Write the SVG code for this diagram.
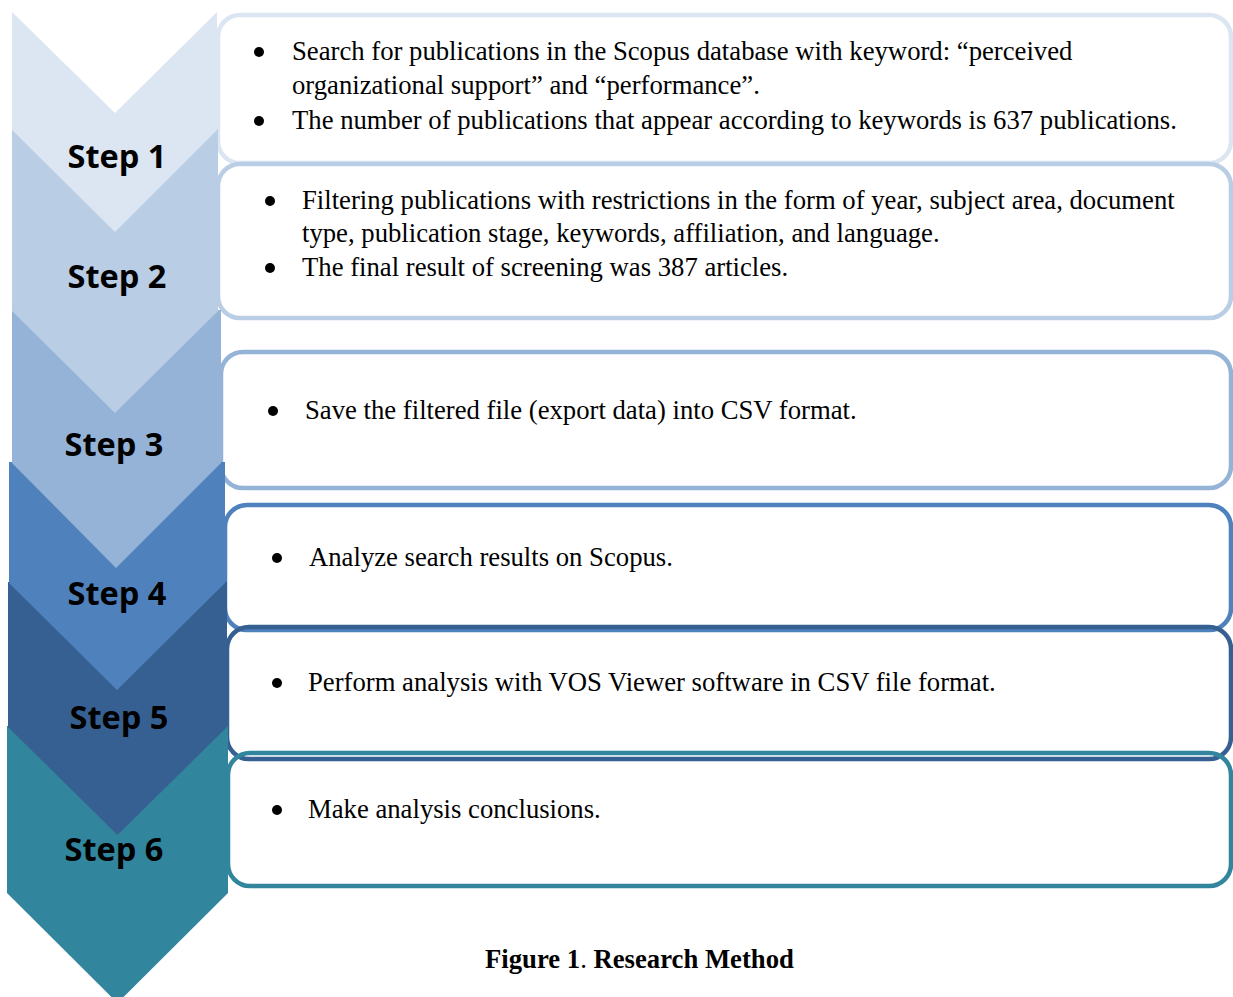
<svg xmlns="http://www.w3.org/2000/svg" width="1233" height="997" viewBox="0 0 1233 997">
<style>
.box{fill:none;stroke-width:4.5}
.t{font-family:"Liberation Serif","Times New Roman",serif;font-size:26.7px;fill:#000}
.s{font-family:"Open Sans","Liberation Sans",sans-serif;font-weight:bold;font-size:32.5px;fill:#000}
.cap{font-family:"Liberation Serif","Times New Roman",serif;font-size:26.7px;font-weight:bold;fill:#000}
</style>
<rect width="1233" height="997" fill="#fff"/>
<g id="connectors"></g>
<g id="boxes">
<g id="box1"><rect class="box" x="218" y="15" width="1013" height="148" rx="22" stroke="#DCE6F2"/></g>
<g id="box2"><rect class="box" x="218" y="164" width="1013" height="154" rx="22" stroke="#B9CDE5"/></g>
<g id="box3"><rect class="box" x="221" y="352" width="1010" height="136" rx="22" stroke="#95B3D7"/></g>
<g id="box4"><rect class="box" x="225" y="505" width="1006" height="125" rx="22" stroke="#4F81BD"/></g>
<g id="box5"><rect class="box" x="227" y="627" width="1004" height="132" rx="22" stroke="#376092"/></g>
<g id="box6"><rect class="box" x="228" y="753" width="1003" height="133" rx="22" stroke="#31859C"/></g>
</g>
<g id="chevrons">
<g id="chev6"><polygon points="7,726 228,726 228,893 117.5,1003 7,893" fill="#31859C"/></g>
<g id="chev5"><polygon points="8,582 227,582 227,727 117.5,835 8,727" fill="#376092"/></g>
<g id="chev4"><polygon points="9,462 225,462 225,583 117,690 9,583" fill="#4F81BD"/></g>
<g id="chev3"><polygon points="12,310 221,310 221,463 116,568 12,463" fill="#95B3D7"/></g>
<g id="chev2"><polygon points="12,129 218,129 218,311 115,413 12,311" fill="#B9CDE5"/></g>
<g id="chev1"><polygon points="12,12 115,113 217,12 217,130 115,232 12,130" fill="#DCE6F2"/></g>
</g>
<g id="labels">
<text class="s" x="117" y="168" text-anchor="middle">Step 1</text>
<text class="s" x="117" y="288" text-anchor="middle">Step 2</text>
<text class="s" x="114" y="456" text-anchor="middle">Step 3</text>
<text class="s" x="117" y="605" text-anchor="middle">Step 4</text>
<text class="s" x="119" y="729" text-anchor="middle">Step 5</text>
<text class="s" x="114" y="861" text-anchor="middle">Step 6</text>
</g>
<g id="texts">
<circle cx="259" cy="52" r="5"/>
<text class="t" x="292" y="60">Search for publications in the Scopus database with keyword: “perceived</text>
<text class="t" x="292" y="94">organizational support” and “performance”.</text>
<circle cx="259" cy="121" r="5"/>
<text class="t" x="292" y="129">The number of publications that appear according to keywords is 637 publications.</text>
<circle cx="270" cy="201" r="5"/>
<text class="t" x="302" y="209">Filtering publications with restrictions in the form of year, subject area, document</text>
<text class="t" x="302" y="242">type, publication stage, keywords, affiliation, and language.</text>
<circle cx="270" cy="268" r="5"/>
<text class="t" x="302" y="276">The final result of screening was 387 articles.</text>
<circle cx="273" cy="411" r="5"/>
<text class="t" x="305" y="419">Save the filtered file (export data) into CSV format.</text>
<circle cx="277" cy="558" r="5"/>
<text class="t" x="309" y="566">Analyze search results on Scopus.</text>
<circle cx="277" cy="683" r="5"/>
<text class="t" x="308" y="691">Perform analysis with VOS Viewer software in CSV file format.</text>
<circle cx="277" cy="810" r="5"/>
<text class="t" x="308" y="818">Make analysis conclusions.</text>
</g>
<text class="cap" x="485" y="968">Figure 1<tspan font-weight="normal">.</tspan> Research Method</text>
</svg>
